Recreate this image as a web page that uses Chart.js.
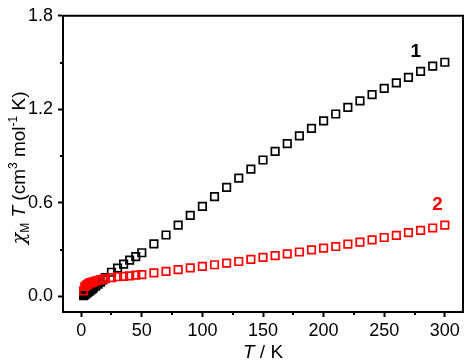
<!DOCTYPE html>
<html>
<head>
<meta charset="utf-8">
<script src="https://cdn.jsdelivr.net/npm/chart.js@4"></script>
<style>
  html, body { margin: 0; padding: 0; background: #fff; }
  #wrap { width: 470px; height: 362px; }
</style>
</head>
<body>
<div id="wrap"><canvas id="myChart" width="470" height="362"></canvas></div>
<script>
// temperatures (K)
const temps = [2, 3, 4, 5, 6, 7, 8, 9, 10, 12, 14, 16, 18, 20, 25, 30, 35, 40, 45, 50,
    60, 70, 80, 90, 100, 110, 120, 130, 140, 150, 160, 170, 180, 190, 200,
    210, 220, 230, 240, 250, 260, 270, 280, 290, 300];

// chiM*T values, compound 1 (black) and 2 (red)
const chiT1 = [0.005, 0.012, 0.018, 0.024, 0.030, 0.036, 0.042, 0.048, 0.054, 0.066, 0.079, 0.092, 0.106, 0.120, 0.155, 0.182, 0.207, 0.233, 0.255, 0.280,
    0.337, 0.394, 0.457, 0.520, 0.578, 0.640, 0.700, 0.759, 0.816, 0.875, 0.930, 0.980, 1.030, 1.078, 1.126,
    1.170, 1.212, 1.254, 1.294, 1.334, 1.370, 1.405, 1.443, 1.477, 1.502];
const chiT2 = [0.035, 0.062, 0.070, 0.076, 0.081, 0.085, 0.088, 0.091, 0.094, 0.099, 0.103, 0.107, 0.111, 0.114, 0.120, 0.126, 0.128, 0.132, 0.136, 0.140,
    0.151, 0.160, 0.172, 0.183, 0.193, 0.203, 0.214, 0.224, 0.237, 0.250, 0.262, 0.273, 0.285, 0.298, 0.310,
    0.320, 0.335, 0.348, 0.363, 0.378, 0.392, 0.409, 0.424, 0.439, 0.457];

// tick values
const xTicks = [0, 25, 50, 75, 100, 125, 150, 175, 200, 225, 250, 275, 300];
const xMajor = [0, 50, 100, 150, 200, 250, 300];
const yTicks = [0, 0.3, 0.6, 0.9, 1.2, 1.5, 1.8];
const yMajor = [0, 0.6, 1.2, 1.8];

// series labels: [text, T, chiT]
const seriesLabels = [["1", 276, 1.57, "#000"], ["2", 294, 0.59, "#ff0000"]];

const FONT = "'Liberation Sans', Arial, sans-serif";

function toPoints(ys) {
    return temps.map((t, i) => ({ x: t, y: ys[i] }));
}

const extras = {
    id: "extras",
    afterDraw(chart) {
        const ctx = chart.ctx;
        const a = chart.chartArea;
        const xs = chart.scales.x, ys = chart.scales.y;
        ctx.save();
        // top and right frame
        ctx.strokeStyle = "#000";
        ctx.lineWidth = 2;
        ctx.beginPath();
        ctx.moveTo(a.left, a.top);
        ctx.lineTo(a.right, a.top);
        ctx.lineTo(a.right, a.bottom);
        ctx.stroke();

        // minor ticks
        ctx.lineWidth = 2;
        ctx.beginPath();
        xTicks.filter(v => !xMajor.includes(v)).forEach(v => {
            const p = Math.round(xs.getPixelForValue(v));
            ctx.moveTo(p, a.bottom);
            ctx.lineTo(p, a.bottom + 3);
        });
        yTicks.filter(v => !yMajor.includes(v)).forEach(v => {
            const p = Math.round(ys.getPixelForValue(v));
            ctx.moveTo(a.left, p);
            ctx.lineTo(a.left - 3, p);
        });
        ctx.stroke();

        // series labels
        ctx.font = "bold 19px " + FONT;
        ctx.textAlign = "center";
        ctx.textBaseline = "middle";
        seriesLabels.forEach(l => {
            ctx.fillStyle = l[3];
            ctx.fillText(l[0], xs.getPixelForValue(l[1]), ys.getPixelForValue(l[2]));
        });

        // x title
        ctx.fillStyle = "#000";
        ctx.textBaseline = "alphabetic";
        ctx.textAlign = "left";
        const xParts = [["T", "italic 19px " + FONT], [" / K", "19px " + FONT]];
        let w = 0;
        xParts.forEach(p => { ctx.font = p[1]; w += ctx.measureText(p[0]).width; });
        let cx = (a.left + a.right) / 2 - w / 2;
        xParts.forEach(p => { ctx.font = p[1]; ctx.fillText(p[0], cx, 358); cx += ctx.measureText(p[0]).width; });

        // y title, rotated
        const yParts = [
            ["\u03c7", "italic 19px 'DejaVu Serif', serif", 0],
            ["M", "12px " + FONT, 4],
            [" ", "19px " + FONT, 0],
            ["T", "italic 19px " + FONT, 0],
            [" (cm", "19px " + FONT, 0],
            ["3", "12px " + FONT, -8],
            [" mol", "19px " + FONT, 0],
            ["-1", "12px " + FONT, -8],
            [" K)", "19px " + FONT, 0]
        ];
        w = 0;
        yParts.forEach(p => { ctx.font = p[1]; w += ctx.measureText(p[0]).width; });
        ctx.translate(25, (a.top + a.bottom) / 2 + 4);
        ctx.rotate(-Math.PI / 2);
        cx = -w / 2;
        yParts.forEach(p => { ctx.font = p[1]; ctx.fillText(p[0], cx, p[2]); cx += ctx.measureText(p[0]).width; });
        ctx.restore();
    }
};

const ctx = document.getElementById("myChart").getContext("2d");
const myChart = new Chart(ctx, {
    type: "scatter",
    data: {
        datasets: [{
            label: "1",
            data: toPoints(chiT1),
            pointStyle: "rect",
            pointRadius: 5.3,
            pointBorderWidth: 1.7,
            borderColor: "#000",
            backgroundColor: "rgba(0,0,0,0)",
            order: 1
        }, {
            label: "2",
            data: toPoints(chiT2),
            pointStyle: "rect",
            pointRadius: 5.3,
            pointBorderWidth: 1.7,
            borderColor: "#ff0000",
            backgroundColor: "rgba(0,0,0,0)",
            order: 0
        }]
    },
    options: {
        responsive: false,
        animation: false,
        layout: { padding: { left: 0, top: 10, right: 4, bottom: 0 } },
        plugins: {
            legend: { display: false },
            tooltip: { enabled: false }
        },
        scales: {
            x: {
                type: "linear",
                min: -15,
                max: 315,
                afterBuildTicks: s => { s.ticks = xTicks.map(v => ({ value: v })); },
                afterFit: s => { s.height = 50; },
                grid: {
                    drawOnChartArea: false,
                    tickLength: 5,
                    tickWidth: 2,
                    tickColor: c => xMajor.includes(c.tick.value) ? "#000" : "rgba(0,0,0,0)"
                },
                border: { display: true, color: "#000", width: 2 },
                ticks: {
                    color: "#000",
                    padding: 3,
                    maxRotation: 0,
                    autoSkip: false,
                    font: { family: FONT, size: 18 },
                    callback: v => xMajor.includes(v) ? String(v) : ""
                }
            },
            y: {
                type: "linear",
                min: -0.1,
                max: 1.8,
                afterBuildTicks: s => { s.ticks = yTicks.map(v => ({ value: v })); },
                afterFit: s => { s.width = 63; },
                grid: {
                    drawOnChartArea: false,
                    tickLength: 5,
                    tickWidth: 2,
                    tickColor: c => yMajor.includes(c.tick.value) ? "#000" : "rgba(0,0,0,0)"
                },
                border: { display: true, color: "#000", width: 2 },
                ticks: {
                    color: "#000",
                    padding: 5,
                    autoSkip: false,
                    font: { family: FONT, size: 18 },
                    callback: v => yMajor.includes(v) ? v.toFixed(1) : ""
                }
            }
        }
    },
    plugins: [extras]
});
</script>
</body>
</html>
